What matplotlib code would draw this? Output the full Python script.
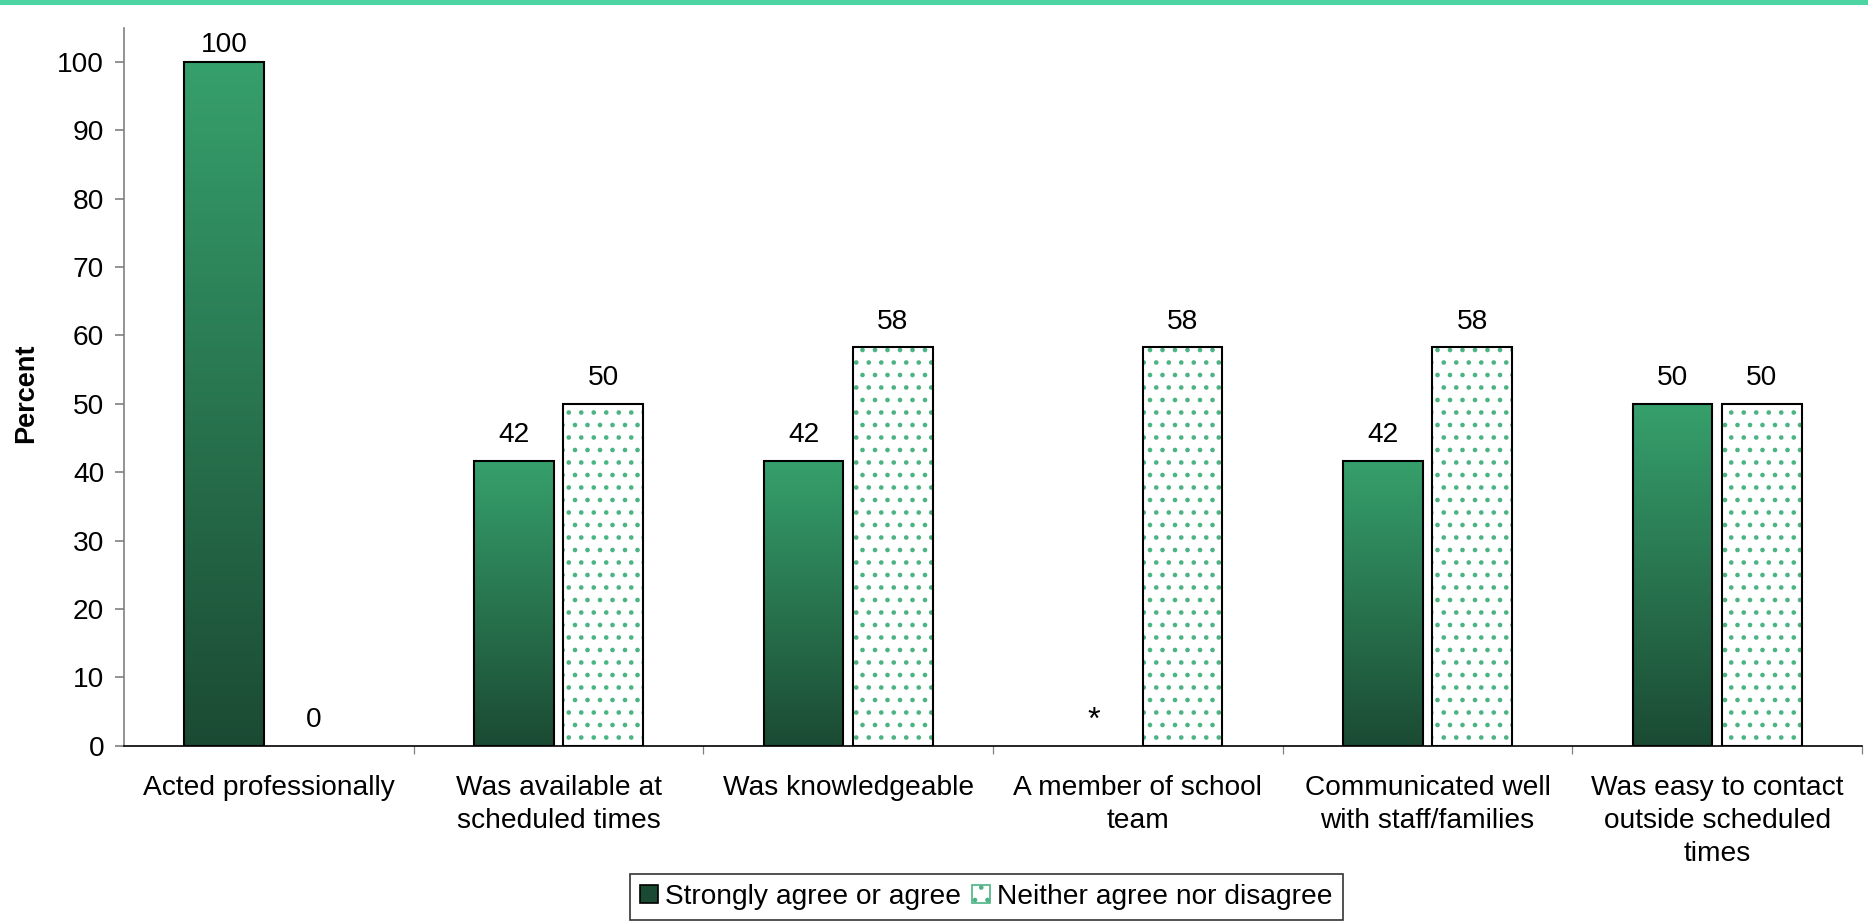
import numpy as np
import matplotlib
matplotlib.use("Agg")
import matplotlib.pyplot as plt
from matplotlib.colors import LinearSegmentedColormap
from matplotlib.patches import Patch, Rectangle

plt.rcParams['font.family'] = ['Liberation Sans', 'DejaVu Sans']
plt.rcParams['hatch.linewidth'] = 1.0

# Data
categories = ["Acted professionally", "Was available at\nscheduled times",
              "Was knowledgeable", "A member of school\nteam",
              "Communicated well\nwith staff/families",
              "Was easy to contact\noutside scheduled\ntimes"]
agree = [100, 41.7, 41.7, np.nan, 41.7, 50]      # nan -> shown as *
neither = [0, 50, 58.3, 58.3, 58.3, 50]
series_names = ["Strongly agree or agree", "Neither agree nor disagree"]

dark_green = "#1b4a33"
light_green = "#36a06c"
dot_green = "#4cb383"
fs = 13.5

fig = plt.figure(figsize=(1868 / 150, 922 / 150), dpi=150)
ax = fig.add_axes([0.0664, 0.191, 0.9304, 0.779])

# teal band at the very top
fig.patches.append(Rectangle((0, 1 - 4 / 922), 1, 4 / 922, transform=fig.transFigure,
                             color="#4dd4a3", zorder=0))

x = np.arange(len(categories))
w = 0.275
off = 0.154

cmap = LinearSegmentedColormap.from_list("g", [dark_green, light_green])
grad = np.linspace(0, 1, 256).reshape(-1, 1)

agree_h = np.nan_to_num(agree)
bars1 = ax.bar(x - off, agree_h, w, facecolor="none", edgecolor="black", linewidth=1.0, zorder=3)
for b in bars1:
    if b.get_height() <= 0:
        b.set_visible(False)
        continue
    im = ax.imshow(grad, cmap=cmap, origin="lower", aspect="auto",
                   extent=(b.get_x(), b.get_x() + b.get_width(), 0, b.get_height()), zorder=2)
    im.set_clip_path(b)

ax.bar(x + off, neither, w, color="white", edgecolor=dot_green, hatch="..", linewidth=0, zorder=2)
bars2 = ax.bar(x + off, neither, w, fill=False, edgecolor="black", linewidth=1.0, zorder=3)
for b in bars2:
    if b.get_height() <= 0:
        b.set_visible(False)

# value labels
for xi, v in zip(x - off, agree):
    if np.isnan(v):
        ax.text(xi, 1.5, "*", ha="center", va="bottom", fontsize=fs + 2)
    else:
        ax.annotate(f"{v:.0f}", (xi, v), xytext=(0, 6 if v < 100 else 2), textcoords="offset points",
                    ha="center", va="bottom", fontsize=fs, annotation_clip=False)
for xi, v in zip(x + off, neither):
    ax.annotate(f"{v:.0f}", (xi, v), xytext=(0, 6), textcoords="offset points",
                ha="center", va="bottom", fontsize=fs, annotation_clip=False)

ax.set_xlim(-0.5, len(categories) - 0.5)
ax.set_ylim(0, 105)
ax.set_yticks(np.arange(0, 101, 10))
ax.tick_params(axis="y", labelsize=fs, length=4.5, color="#808080", pad=5)
ax.set_xticks(x)
ax.set_xticklabels(categories, fontsize=fs, linespacing=1.35)
ax.tick_params(axis="x", which="major", length=0, pad=14)
ax.set_xticks(np.arange(0.5, len(categories), 1), minor=True)
ax.tick_params(axis="x", which="minor", length=4, color="#808080")

for s in ["top", "right"]:
    ax.spines[s].set_visible(False)
ax.spines["left"].set_color("#808080")
ax.spines["bottom"].set_color("black")

fig.text(26 / 1868, 0.574, "Percent", rotation=90, ha="center", va="center",
         fontsize=13, fontweight="bold")

handles = [Patch(facecolor=dark_green, edgecolor="black", linewidth=0.8),
           Patch(facecolor="white", edgecolor=dot_green, hatch="..", linewidth=0.8)]
leg = fig.legend(handles, series_names, loc="upper center", bbox_to_anchor=(0.528, 0.052),
                 ncol=2, fontsize=fs, frameon=True, fancybox=False, handlelength=0.65,
                 handleheight=0.65, handletextpad=0.25, columnspacing=0.4, borderpad=0.35,
                 borderaxespad=0)
leg.get_frame().set_edgecolor("black")
leg.get_frame().set_linewidth(0.8)

fig.savefig("out.png", dpi=150)
